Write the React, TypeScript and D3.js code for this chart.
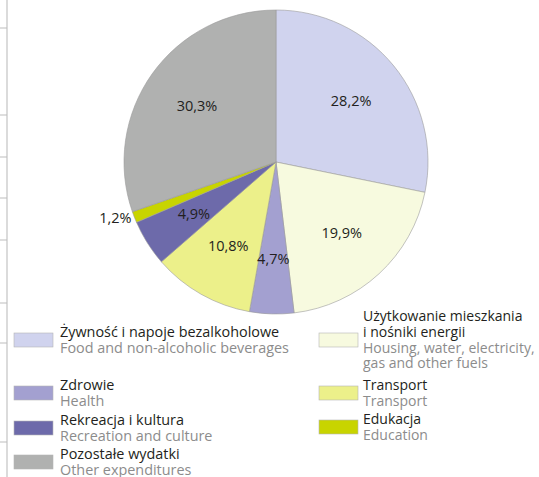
import React, { useEffect, useRef } from "react";
import * as d3 from "d3";

const width = 539;
const height = 477;

// slices, clockwise from 12 o'clock
const titlesPl = [
  "Żywność i napoje bezalkoholowe",
  "Użytkowanie mieszkania|i nośniki energii",
  "Zdrowie",
  "Transport",
  "Rekreacja i kultura",
  "Edukacja",
  "Pozostałe wydatki",
];
const titlesEn = [
  "Food and non-alcoholic beverages",
  "Housing, water, electricity,|gas and other fuels",
  "Health",
  "Transport",
  "Recreation and culture",
  "Education",
  "Other expenditures",
];
const shares = [28.2, 19.9, 4.7, 10.8, 4.9, 1.2, 30.3];
const colors = ["#d0d3ee", "#f7fadf", "#a3a0d0", "#ecf08a", "#6d6aaa", "#c8d400", "#b0b1b0"];

// legend layout: [column, row top]
const legendSlots = [
  [0, 333],
  [1, 333],
  [0, 386],
  [1, 386],
  [0, 421],
  [1, 420],
  [0, 455],
];

// stray rule lines at the left edge (part of the neighbouring page)
const edgeTicks = [28, 115, 157, 198, 240, 303, 343, 442];

const textDark = "#231f20";
const textGray = "#8c8c8c";
const font = "'Open Sans', sans-serif";

function App() {
  const ref = useRef<SVGSVGElement>(null);

  useEffect(() => {
    const svg = d3.select(ref.current);
    svg.selectAll("*").remove();

    // left edge decoration
    svg.append("line")
      .attr("x1", 7).attr("x2", 7).attr("y1", 0).attr("y2", height)
      .attr("stroke", "#cfcfcf").attr("stroke-width", 1.5);
    svg.selectAll("line.tick")
      .data(edgeTicks)
      .enter().append("line")
      .attr("class", "tick")
      .attr("x1", 0).attr("x2", 7)
      .attr("y1", (d) => d).attr("y2", (d) => d)
      .attr("stroke", "#bdbdbd").attr("stroke-width", 1);

    // pie
    const cx = 276, cy = 162, R = 152;
    const g = svg.append("g").attr("transform", `translate(${cx},${cy})`);
    const pie = d3.pie<number>().sort(null).value((d) => d);
    const arcs = pie(shares);
    const arc = d3.arc<d3.PieArcDatum<number>>().innerRadius(0).outerRadius(R);
    const labelArc = d3.arc<d3.PieArcDatum<number>>().innerRadius(97).outerRadius(97);
    const outerArc = d3.arc<d3.PieArcDatum<number>>().innerRadius(155).outerRadius(155);

    g.selectAll("path")
      .data(arcs)
      .enter().append("path")
      .attr("d", arc)
      .attr("fill", (d, i) => colors[i])
      .attr("stroke", "#9a9a9a")
      .attr("stroke-width", 0.6);

    g.selectAll("text.pct")
      .data(arcs)
      .enter().append("text")
      .attr("class", "pct")
      .attr("transform", (d) => {
        const c = d.value < 2 ? outerArc.centroid(d) : labelArc.centroid(d);
        return `translate(${c[0]},${c[1] + 5})`;
      })
      .attr("text-anchor", (d) => (d.value < 2 ? "end" : "middle"))
      .style("font", `14.5px ${font}`)
      .attr("fill", textDark)
      .text((d) => d.value.toFixed(1).replace(".", ",") + "%");

    // legend
    const colX = [14, 319];
    const textX = [60, 363];
    const swW = 39, swH = 14;
    const lg = svg.append("g");
    titlesPl.forEach((title, i) => {
      const [col, top] = legendSlots[i];
      const x = colX[col];
      const tx = textX[col];
      const plLines = title.split("|");
      const enLines = titlesEn[i].split("|");
      lg.append("rect")
        .attr("x", x).attr("y", top)
        .attr("width", swW).attr("height", swH)
        .attr("fill", colors[i])
        .attr("stroke", "#b5b5b5").attr("stroke-width", 0.6);
      // first text line sits about level with the swatch top
      const lineH = 15.6;
      const firstBase = top + 4 - (plLines.length - 1) * lineH;
      const t = lg.append("text")
        .attr("x", tx)
        .style("font", `${col === 0 ? 14.4 : 14} px ${font}`.replace(" px", "px"));
      plLines.forEach((ln, k) => {
        t.append("tspan").attr("x", tx).attr("y", firstBase + k * lineH)
          .attr("fill", textDark).text(ln);
      });
      enLines.forEach((ln, k) => {
        t.append("tspan").attr("x", tx)
          .attr("y", firstBase + (plLines.length + k) * lineH)
          .attr("fill", textGray).text(ln);
      });
    });
  }, []);

  return (
    <svg
      ref={ref}
      width={width}
      height={height}
      style={{ position: "absolute", left: 0, top: 0, background: "#fff" }}
    />
  );
}

export default App;
